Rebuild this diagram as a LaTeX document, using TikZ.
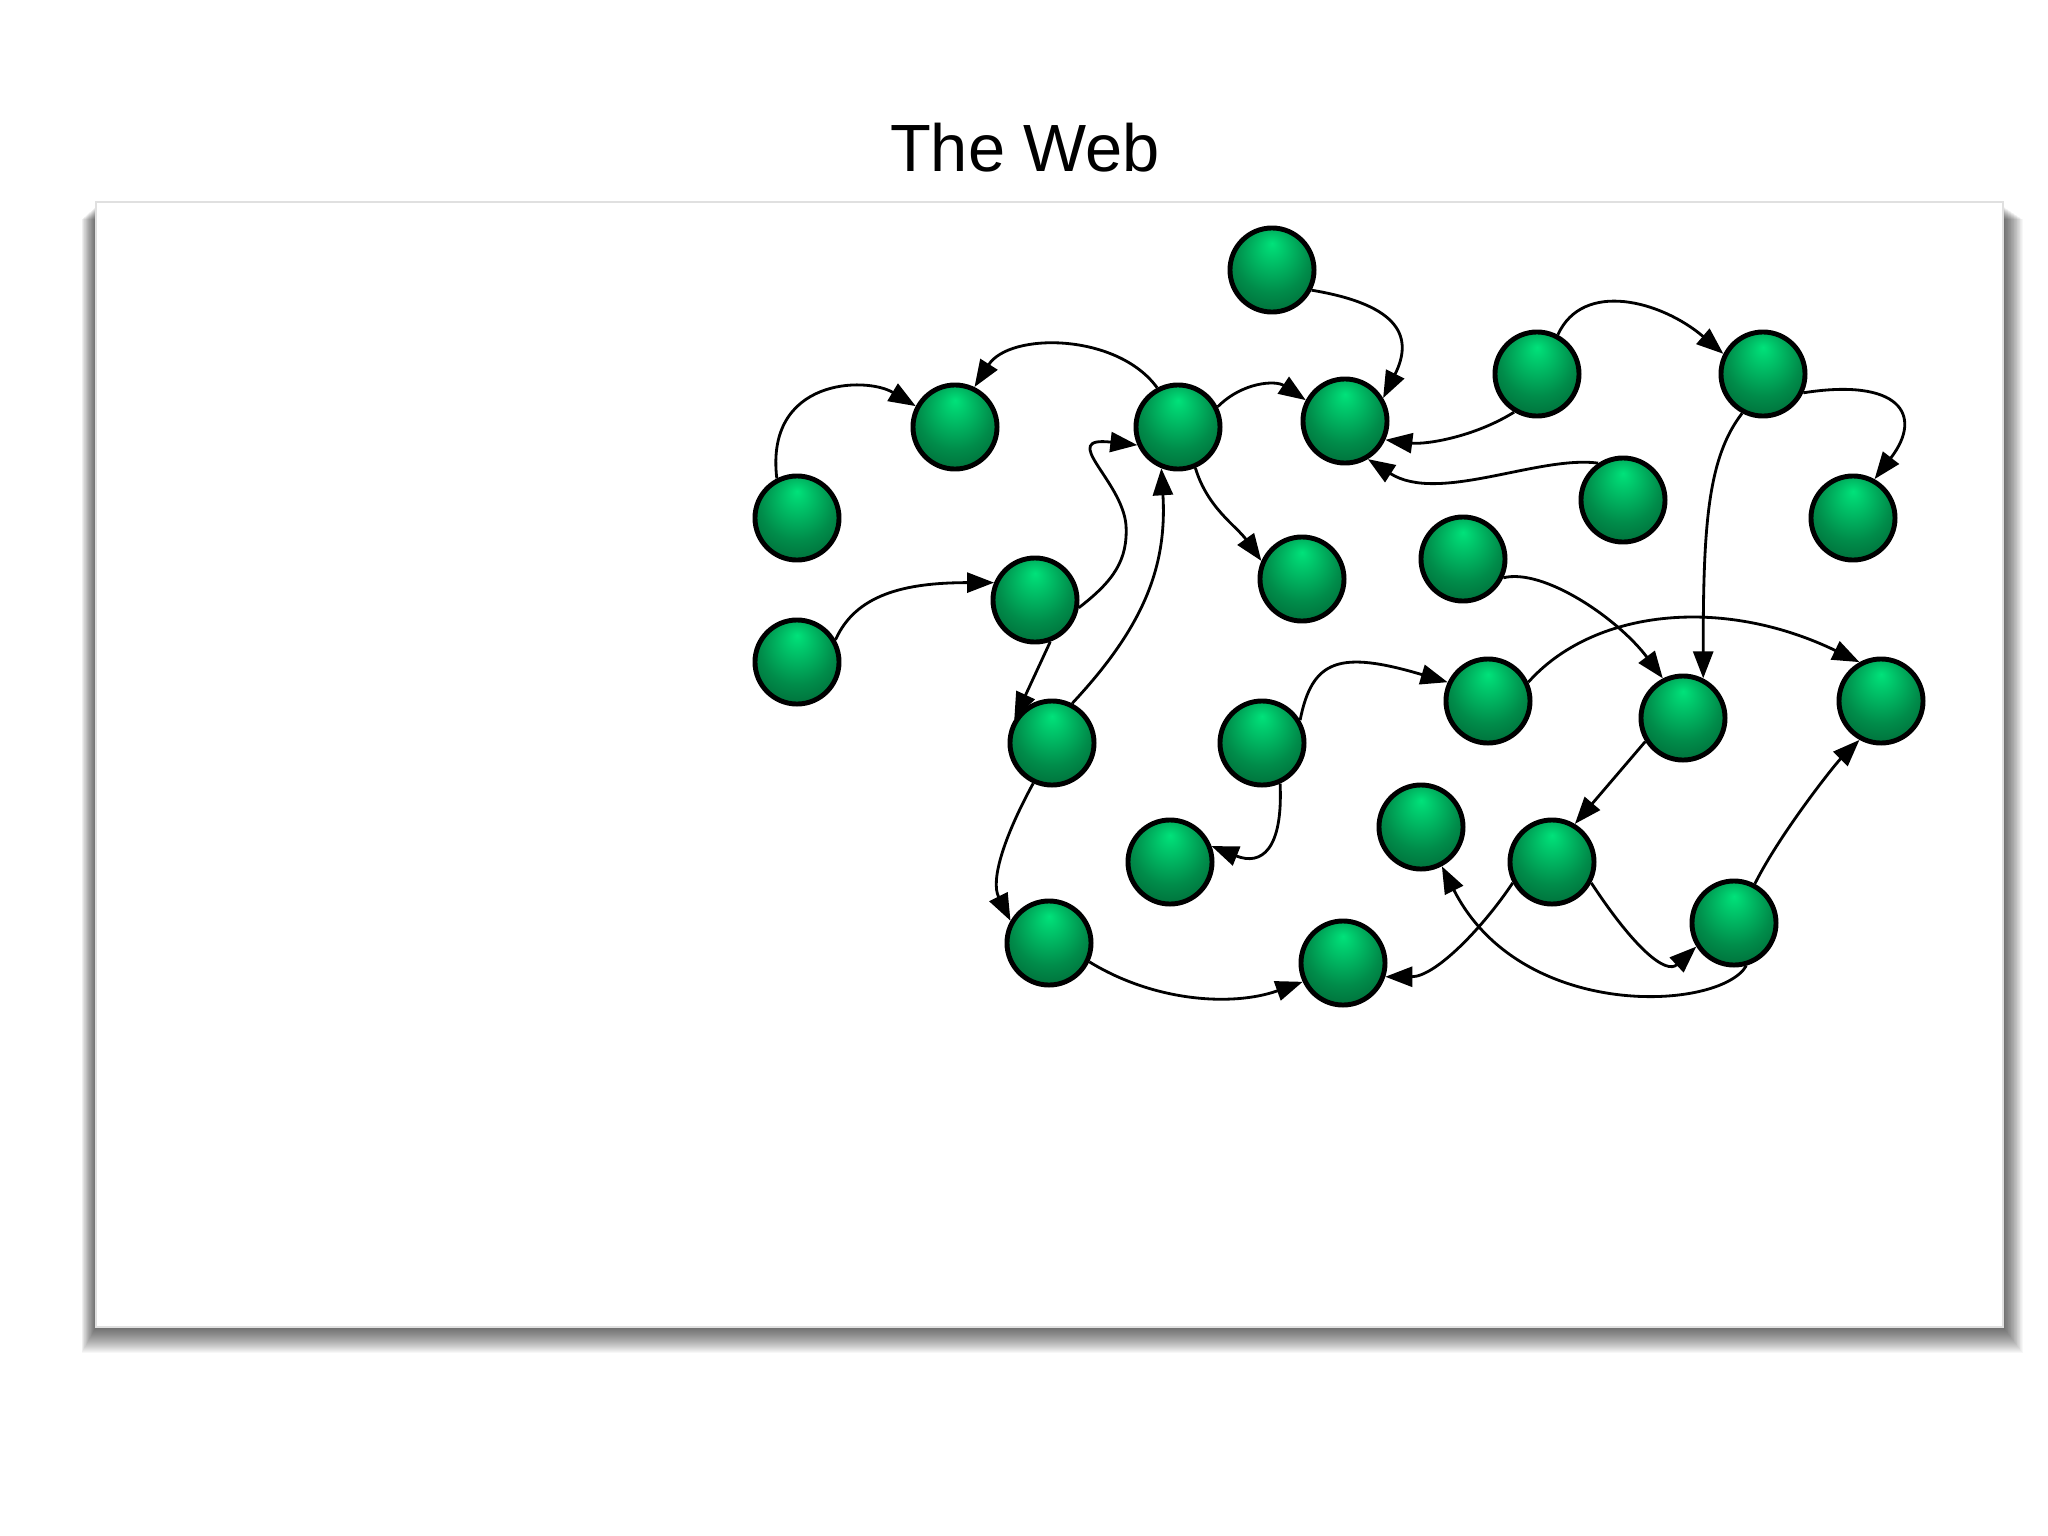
\documentclass[tikz,border=0pt]{standalone}
\usepackage{fontspec}
\setmainfont{Liberation Sans}
\usetikzlibrary{arrows.meta}
\definecolor{pagehi}{RGB}{0,226,122}
\definecolor{pagemid}{RGB}{0,140,74}
\definecolor{pagerim}{RGB}{0,100,52}
\definecolor{pagelo}{RGB}{0,70,36}
\pgfdeclareradialshading{pageball}{\pgfpoint{0bp}{16bp}}{color(0bp)=(pagehi); color(22bp)=(pagemid); color(36bp)=(pagerim); color(48bp)=(pagelo)}

\begin{document}
\begin{tikzpicture}[
  x=0.01cm, y=-0.01cm,
  page/.style={circle, draw=black, line width=1.4pt, minimum size=0.84cm,
    inner sep=0pt, shade, shading=pageball},
  link/.style={-{Triangle[length=2.7mm, width=2mm]}, line width=0.8pt}
]
\useasboundingbox (0,0) rectangle (2048,1536);
\foreach \d in {1,...,26}
  \fill[black, opacity=0.032] (96-0.55*\d, 206+0.5*\d) rectangle (2003+0.75*\d, 1327+\d);
\fill[white, draw=black!12, line width=0.4pt] (96,202) rectangle (2003,1327);
\node[font=\fontsize{19}{23}\selectfont, anchor=base] (title) at (1025,171) {The Web};

\node[page] (p1) at (1272,270) {};
\node[page] (p2) at (955,427) {};
\node[page] (p3) at (1178,427) {};
\node[page] (p4) at (1345,421) {};
\node[page] (p5) at (1537,374) {};
\node[page] (p6) at (1763,374) {};
\node[page] (p7) at (797,518) {};
\node[page] (p8) at (1623,500) {};
\node[page] (p9) at (1853,518) {};
\node[page] (p10) at (1302,579) {};
\node[page] (p11) at (1463,559) {};
\node[page] (p12) at (1035,600) {};
\node[page] (p13) at (797,662) {};
\node[page] (p14) at (1052,743) {};
\node[page] (p15) at (1262,743) {};
\node[page] (p16) at (1488,701) {};
\node[page] (p17) at (1683,718) {};
\node[page] (p18) at (1881,701) {};
\node[page] (p19) at (1170,862) {};
\node[page] (p20) at (1421,827) {};
\node[page] (p21) at (1552,862) {};
\node[page] (p22) at (1734,923) {};
\node[page] (p23) at (1049,943) {};
\node[page] (p24) at (1343,963) {};

\draw[link] (p1.-27) .. controls +(90,15) and +(30,-60) .. (p4.31);
\draw[link] (p3.118) .. controls +(-40,-55) and +(35,-55) .. (p2.64);
\draw[link] (p7.117) .. controls +(-12,-100) and +(-50,-30) .. (p2.152);
\draw[link] (p3.27) .. controls +(25,-25) and +(-30,-20) .. (p4.152);
\draw[link] (p5.239) .. controls +(-40,25) and +(40,5) .. (p4.-25);
\draw[link] (p8.124) .. controls +(-60,-8) and +(70,45) .. (p4.-59);
\draw[link] (p5.62) .. controls +(25,-55) and +(-62,-53) .. (p6.153);
\draw[link] (p6.-25) .. controls +(95,-15) and +(50,-65) .. (p9.61);
\draw[link] (p6.242) .. controls +(-35,45) and +(0,-150) .. (p17.63);
\draw[link] (p3.-67) .. controls +(12,40) and +(-25,-35) .. (p10.156);
\draw[link] (p12.-10) .. controls +(35,-27) and +(2,35) .. (1126,525)
  .. controls +(-4,-45) and +(-80,-9) .. (p3.204);
\draw[link] (p14.63) .. controls +(70,-75) and +(6,100) .. (p3.248);
\draw[link] (p13.30) .. controls +(20,-45) and +(-90,0) .. (p12.157);
\draw[link] (p12.-70) -- (p14.148);
\draw[link] (p14.245) .. controls +(-30,55) and +(-20,-40) .. (p23.150);
\draw[link] (p23.-25) .. controls +(65,40) and +(-70,25) .. (p24.205);
\draw[link] (p15.31) .. controls +(12,-61) and +(-108,-32) .. (p16.155);
\draw[link] (p15.-66) .. controls +(3,66) and +(50,20) .. (p19.21);
\draw[link] (p11.-25) .. controls +(40,-10) and +(-45,-60) .. (p17.117);
\draw[link] (p16.25) .. controls +(64,-72) and +(-139,-67) .. (p18.119);
\draw[link] (p17.212) -- (p21.59);
\draw[link] (p21.208) .. controls +(-30,45) and +(50,0) .. (p24.-18);
\draw[link] (p21.-28) .. controls +(44,67) and +(-30,28) .. (p22.212);
\draw[link] (p22.62) .. controls +(25,-50) and +(-25,25) .. (p18.241);
\draw[link] (p22.-74) .. controls +(-26,45) and +(79,156) .. (p20.-62);
\end{tikzpicture}
\end{document}
